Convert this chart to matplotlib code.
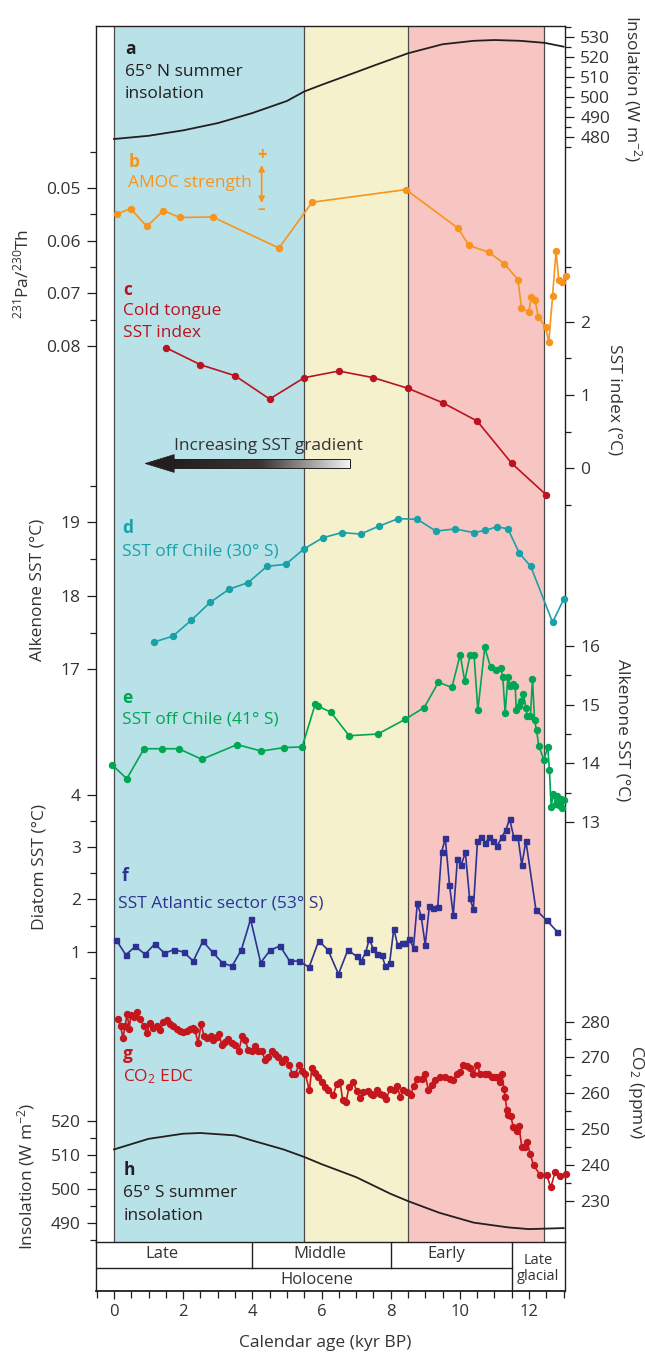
import numpy as np
import matplotlib
matplotlib.use('Agg')
import matplotlib.pyplot as plt
from matplotlib.colors import LinearSegmentedColormap
from matplotlib.patches import Polygon, Rectangle

plt.rcParams['font.family'] = ['Open Sans', 'DejaVu Sans']
plt.rcParams['mathtext.fontset'] = 'custom'
plt.rcParams['mathtext.rm'] = 'Open Sans'
plt.rcParams['mathtext.it'] = 'Open Sans:italic'
plt.rcParams['mathtext.bf'] = 'Open Sans:bold'
plt.rcParams['font.size'] = 12.5

# ---- data, ages in kyr BP ----
# a: 65N summer insolation (W m-2)
a_age = [0, 1, 2, 3, 4, 5, 5.5, 6, 7, 7.5, 8.5, 9.5, 10.4, 11, 11.75, 12.45, 13]
a_ins = [479.1, 480.7, 483.4, 487.0, 492.0, 498.0, 502.7, 506.0, 512.3, 515.5,
         521.7, 526.2, 527.9, 528.3, 527.9, 526.9, 525.0]

# b: AMOC strength, 231Pa/230Th
b_age = [0.1, 0.48, 0.95, 1.43, 1.9, 2.85, 4.77, 5.73, 8.44, 9.94, 10.26, 10.84, 11.29,
         11.68, 11.78, 11.99, 12.07, 12.17, 12.27, 12.48, 12.57, 12.68, 12.78, 12.86,
         12.96, 13.07]
b_pa = [0.0549, 0.0539, 0.0573, 0.0543, 0.0556, 0.0555, 0.0614, 0.0527, 0.0503, 0.0576,
        0.0609, 0.0622, 0.0644, 0.0674, 0.0727, 0.0736, 0.0707, 0.0712, 0.0745, 0.0764,
        0.0793, 0.0706, 0.0620, 0.0674, 0.0678, 0.0667]

# c: cold tongue SST index (degC)
c_age = [1.5, 2.5, 3.5, 4.5, 5.5, 6.5, 7.5, 8.5, 9.5, 10.5, 11.5, 12.5]
c_sst = [1.645, 1.413, 1.263, 0.945, 1.236, 1.327, 1.236, 1.091, 0.895, 0.645, 0.068, -0.364]

# d: alkenone SST off Chile 30S
d_age = [1.15, 1.70, 2.24, 2.78, 3.33, 3.88, 4.42, 4.97, 5.50, 6.04, 6.59, 7.13, 7.67,
         8.22, 8.77, 9.31, 9.86, 10.40, 10.74, 11.08, 11.39, 11.72, 12.05, 12.68, 13.01]
d_sst = [17.37, 17.45, 17.67, 17.91, 18.09, 18.18, 18.40, 18.43, 18.64, 18.79, 18.86,
         18.84, 18.95, 19.05, 19.04, 18.88, 18.91, 18.86, 18.89, 18.94, 18.91, 18.58,
         18.40, 17.64, 17.96]

# e: alkenone SST off Chile 41S
e_age = [-0.06, 0.37, 0.87, 1.39, 1.87, 2.54, 3.56, 4.26, 4.92, 5.44, 5.82, 5.91, 6.27,
         6.80, 7.63, 8.42, 8.97, 9.38, 9.77, 10.01, 10.14, 10.30, 10.41, 10.52, 10.72,
         10.89, 11.05, 11.18, 11.24, 11.31, 11.39, 11.45, 11.53, 11.60, 11.63, 11.72,
         11.78, 11.84, 11.91, 11.95, 12.04, 12.10, 12.16, 12.22, 12.28, 12.43, 12.54,
         12.59, 12.64, 12.70, 12.77, 12.82, 12.88, 12.93, 12.96, 13.02]
e_sst = [13.98, 13.74, 14.25, 14.25, 14.25, 14.07, 14.32, 14.21, 14.27, 14.28, 15.01,
         14.97, 14.87, 14.47, 14.50, 14.75, 14.95, 15.38, 15.29, 15.85, 15.40, 15.85,
         15.85, 14.90, 15.97, 15.63, 15.59, 15.62, 15.47, 14.86, 15.47, 15.32, 15.35,
         15.32, 14.90, 14.98, 15.06, 15.18, 14.94, 14.80, 14.80, 15.43, 14.73, 14.56,
         14.30, 14.06, 14.28, 13.89, 13.26, 13.48, 13.31, 13.44, 13.29, 13.40, 13.25, 13.38]

# f: diatom SST Atlantic sector 53S
f_age = [0.06, 0.34, 0.62, 0.90, 1.18, 1.46, 1.74, 2.02, 2.29, 2.57, 2.85, 3.13, 3.41,
         3.68, 3.95, 4.24, 4.52, 4.80, 5.08, 5.36, 5.64, 5.92, 6.19, 6.49, 6.76, 7.02,
         7.15, 7.28, 7.38, 7.50, 7.61, 7.74, 7.85, 7.97, 8.09, 8.20, 8.32, 8.42, 8.54,
         8.66, 8.77, 8.88, 9.00, 9.12, 9.23, 9.36, 9.47, 9.58, 9.70, 9.81, 9.93, 10.04,
         10.16, 10.28, 10.39, 10.51, 10.62, 10.74, 10.85, 10.97, 11.08, 11.21, 11.33,
         11.44, 11.56, 11.68, 11.79, 11.91, 12.20, 12.51, 12.82]
f_sst = [1.23, 0.94, 1.10, 0.95, 1.15, 0.97, 1.04, 0.99, 0.82, 1.20, 0.99, 0.79, 0.72,
         1.03, 1.62, 0.79, 1.03, 1.11, 0.82, 0.82, 0.70, 1.21, 1.03, 0.57, 1.03, 0.91,
         0.82, 0.99, 1.24, 1.05, 0.95, 0.94, 0.72, 0.79, 1.44, 1.13, 1.16, 1.17, 1.24,
         1.08, 1.93, 1.68, 1.13, 1.88, 1.84, 1.85, 2.90, 3.17, 2.28, 1.70, 2.78, 2.66,
         2.90, 2.03, 1.82, 3.12, 3.19, 3.08, 3.19, 3.12, 3.02, 3.19, 3.33, 3.54, 3.19,
         3.20, 2.66, 3.12, 1.80, 1.60, 1.38]

# g: CO2 EDC (ppmv)
g_age = [0.12, 0.19, 0.26, 0.32, 0.38, 0.44, 0.49, 0.58, 0.66, 0.75,
         0.87, 0.95, 1.04, 1.14, 1.23, 1.33, 1.43, 1.52, 1.62, 1.71,
         1.81, 1.91, 2.00, 2.10, 2.20, 2.29, 2.34, 2.43, 2.52, 2.60,
         2.70, 2.80, 2.87, 2.97, 3.04, 3.11, 3.21, 3.31, 3.40, 3.50,
         3.61, 3.70, 3.79, 3.88, 3.98, 4.08, 4.17, 4.27, 4.37, 4.46,
         4.56, 4.66, 4.75, 4.85, 4.95, 5.07, 5.15, 5.24, 5.35, 5.45,
         5.53, 5.65, 5.72, 5.82, 5.91, 6.01, 6.10, 6.20, 6.34, 6.44,
         6.54, 6.61, 6.71, 6.80, 6.92, 7.02, 7.11, 7.21, 7.33, 7.42,
         7.50, 7.60, 7.69, 7.79, 7.87, 7.98, 8.10, 8.19, 8.27, 8.37,
         8.48, 8.58, 8.66, 8.77, 8.90, 8.99, 9.09, 9.19, 9.28, 9.43,
         9.57, 9.72, 9.81, 9.91, 10.01, 10.10, 10.20, 10.29, 10.39, 10.51,
         10.58, 10.73, 10.82, 10.92, 11.02, 11.11, 11.16, 11.21, 11.28, 11.31,
         11.36, 11.40, 11.47, 11.55, 11.65, 11.71, 11.79, 11.89, 11.95, 12.03,
         12.13, 12.32, 12.51, 12.63, 12.75, 12.90, 13.07]
g_co2 = [280.8, 278.8, 275.3, 278.8, 282.2, 278.0, 281.8, 281.3, 282.7, 280.6,
         278.8, 276.8, 279.6, 278.3, 278.8, 277.6, 279.8, 280.3, 279.3, 278.8,
         278.0, 277.3, 277.1, 277.3, 277.8, 278.3, 277.6, 274.1, 279.3, 276.0,
         275.4, 276.0, 274.9, 275.7, 276.6, 273.5, 274.4, 275.1, 273.9, 273.4,
         271.7, 275.9, 274.9, 272.2, 271.9, 273.2, 271.9, 271.7, 269.4, 270.0,
         271.7, 270.9, 270.0, 268.8, 269.5, 268.0, 265.5, 265.5, 267.8, 266.2,
         265.5, 260.8, 267.0, 265.7, 264.5, 263.1, 261.9, 260.9, 259.6, 262.6,
         263.1, 258.2, 257.7, 261.9, 263.1, 260.6, 258.6, 260.3, 260.6, 259.9,
         259.4, 260.9, 259.9, 259.6, 258.3, 261.3, 260.9, 262.1, 259.1, 260.9,
         260.3, 259.4, 262.1, 264.1, 264.1, 265.5, 260.9, 262.3, 263.6, 264.5,
         264.5, 264.1, 263.6, 265.5, 266.0, 267.8, 267.5, 267.0, 265.5, 268.0,
         265.3, 265.3, 265.5, 264.5, 264.5, 264.5, 263.1, 265.5, 261.1, 258.9,
         255.4, 254.0, 253.7, 250.5, 249.5, 250.8, 245.1, 245.1, 246.4, 243.2,
         240.0, 237.3, 237.3, 233.8, 238.0, 237.0, 237.5]

# h: 65S summer insolation (W m-2)
h_age = [0, 1, 2, 2.5, 3.5, 4, 4.9, 5.5, 6, 7, 8, 8.5, 9.4, 10.4, 11.4, 12, 13]
h_ins = [511.6, 514.7, 516.2, 516.4, 515.7, 514.2, 511.6, 509.4, 507.3, 503.5, 498.6,
         496.5, 493.1, 490.2, 488.8, 488.3, 488.6]

# periods (kyr BP)
period_edges = [0, 5.5, 8.5, 12.43]
period_colors = ['#b9e2e8', '#f6f1cd', '#f8c6c2']
stage_names = ['Late', 'Middle', 'Early']
stage_bounds = [4, 8, 11.5]

# ---- layout (pixel rows of the 645x1353 canvas) ----
W, H = 645, 1353
LEFT, RIGHT = 96, 565
TOP, BOT, BOXBOT = 26, 1242, 1291.4
XLIM = (-0.52, 13.04)
dark = '#333333'
black = '#231f20'

fig = plt.figure(figsize=(W / 100, H / 100), dpi=100)
ax = fig.add_axes([LEFT / W, 1 - BOT / H, (RIGHT - LEFT) / W, (BOT - TOP) / H])
ax.set_xlim(*XLIM)
ax.set_ylim(BOT, TOP)
ax.set_xticks([])
ax.set_yticks([])
ax.spines['bottom'].set_visible(False)
for s in ['left', 'right', 'top']:
    ax.spines[s].set_linewidth(1.0)
    ax.spines[s].set_color(black)

for i in range(3):
    ax.axvspan(period_edges[i], period_edges[i + 1], color=period_colors[i], lw=0, zorder=0)
for x in period_edges:
    ax.axvline(x, color='#4a4a4a', lw=0.9, zorder=1)


def panel(side, v1, p1, v2, p2, major, minor, fmt):
    t = ax.twinx()
    k = (v2 - v1) / (p2 - p1)
    t.set_ylim(v1 + (BOT - p1) * k, v1 + (TOP - p1) * k)
    for s in t.spines.values():
        s.set_visible(False)
    t.yaxis.set_ticks_position(side)
    t.set_yticks(major)
    t.set_yticks(minor, minor=True)
    t.set_yticklabels([fmt.format(m) for m in major])
    t.tick_params(axis='y', which='major', length=6.5, width=0.9, color=black,
                  labelcolor=dark, labelsize=12.5, pad=4.5, direction='out')
    t.tick_params(axis='y', which='minor', length=4, width=0.9, color=black, direction='out')
    return t


orange = '#f7941d'
crimson = '#b9131f'
teal = '#18a2a8'
green = '#00a651'
navy = '#2e3192'
red = '#c4161c'

ta = panel('right', 530, 36.6, 480, 137.2, list(range(480, 531, 10)),
           list(range(475, 536, 5)), '{:g}')
ta.plot(a_age, a_ins, color=black, lw=1.3, clip_on=False)

tb = panel('left', 0.05, 188, 0.08, 346, [0.05, 0.06, 0.07, 0.08],
           [0.0431, 0.055, 0.065, 0.075], '{:.2f}')
tb.plot(b_age, b_pa, '-o', color=orange, ms=4.3, lw=1.2, clip_on=False)

tc = panel('right', 2, 321.7, 0, 468.3, [0, 1, 2], [-0.5, 0.5, 1.5, 2.75], '{:g}')
tc.plot(c_age, c_sst, '-o', color=crimson, ms=4.3, lw=1.2, clip_on=False)

td = panel('left', 19, 522.3, 17, 669.3, [17, 18, 19], [17.5, 18.5, 19.5], '{:g}')
td.plot(d_age, d_sst, '-o', color=teal, ms=4.3, lw=1.2, clip_on=False)

te = panel('right', 16, 645.7, 13, 822.3, [13, 14, 15, 16], [13.5, 14.5, 15.5], '{:g}')
te.plot(e_age, e_sst, '-o', color=green, ms=4.3, lw=1.2, clip_on=False)

tf = panel('left', 4, 795, 1, 951.7, [1, 2, 3, 4], [0.5, 1.5, 2.5, 3.5], '{:g}')
tf.plot(f_age, f_sst, '-s', color=navy, ms=3.6, lw=1.2, clip_on=False)

tg = panel('right', 280, 1021.5, 230, 1201.1, list(range(230, 281, 10)),
           list(range(235, 280, 10)), '{:g}')
tg.plot(g_age, g_co2, '-o', color=red, ms=4.3, lw=1.2, clip_on=False)

th = panel('left', 520, 1120.7, 490, 1223.3, [490, 500, 510, 520],
           [485, 495, 505, 515], '{:g}')
th.plot(h_age, h_ins, color=black, lw=1.3, clip_on=False)

# ---- panel captions ----
def caption(x, ys, letter, lines, color):
    ax.text(x, ys[0], letter, color=color, weight='bold', va='center', ha='left')
    for y, s in zip(ys[1:], lines):
        ax.text(x, y, s, color=color, va='center', ha='left')


caption(0.32, [49, 71.7, 94.3], 'a', ['65° N summer', 'insolation'], black)
caption(0.41, [161.7, 183.3], 'b', ['AMOC strength'], orange)
caption(0.26, [290, 311, 333.3], 'c', ['Cold tongue', 'SST index'], crimson)
caption(0.23, [527.7, 551], 'd', ['SST off Chile (30° S)'], teal)
caption(0.23, [698.3, 720], 'e', ['SST off Chile (41° S)'], green)
ax.text(0.22, 875.8, 'f', color=navy, weight='bold', va='center')
ax.text(0.12, 904, 'SST Atlantic sector (53° S)', color=navy, va='center')
caption(0.25, [1054, 1076.2], 'g', ['CO$_2$ EDC'], red)
caption(0.27, [1170.4, 1193.3, 1216.2], 'h', ['65° S summer', 'insolation'], black)

# AMOC direction arrow
ax.annotate('', xy=(4.27, 165), xytext=(4.27, 203),
            arrowprops=dict(arrowstyle='<|-|>', color=orange, lw=1.2,
                            mutation_scale=9, shrinkA=0, shrinkB=0))
ax.text(4.27, 155.5, '+', color=orange, ha='center', va='center', weight='bold', fontsize=12)
ax.text(4.27, 209.5, '–', color=orange, ha='center', va='center', weight='bold', fontsize=11)

# increasing SST gradient arrow
grad = LinearSegmentedColormap.from_list('g', [black, '#3a3434', '#f4f4f4'])
ax.imshow(np.linspace(0, 1, 256).reshape(1, -1), cmap=grad, aspect='auto',
          extent=[1.72, 6.82, 467.8, 459.2], zorder=3, interpolation='bilinear')
ax.add_patch(Rectangle((1.72, 459.2), 5.1, 8.6, fill=False, ec=black, lw=0.7, zorder=4))
ax.add_patch(Polygon([(0.9, 463.5), (1.74, 454.6), (1.74, 472.4)], closed=True,
                     fc=black, ec=black, lw=0.5, zorder=4))
ax.text(4.48, 446.5, 'Increasing SST gradient', color=dark, ha='center', va='center')
ax.set_xlim(*XLIM)
ax.set_ylim(BOT, TOP)

# ---- period box with x axis ----
bx = fig.add_axes([LEFT / W, 1 - BOXBOT / H, (RIGHT - LEFT) / W, (BOXBOT - BOT) / H])
bx.set_xlim(*XLIM)
bx.set_ylim(BOXBOT, BOT)
for s in bx.spines.values():
    s.set_color(black)
    s.set_linewidth(1.0)
bx.spines['bottom'].set_linewidth(1.3)
bx.plot([XLIM[0], 11.5], [1268.4, 1268.4], color=black, lw=1.0)
for x in stage_bounds[:2]:
    bx.plot([x, x], [BOT, 1268.4], color=black, lw=1.0)
bx.axvline(stage_bounds[2], color=black, lw=1.0)
for x, s in zip([1.38, 5.95, 9.6], stage_names):
    bx.text(x, 1254.5, s, ha='center', va='center', color=dark, fontsize=12)
bx.text(5.85, 1280, 'Holocene', ha='center', va='center', color=dark, fontsize=12)
bx.text(12.27, 1268.5, 'Late\nglacial', ha='center', va='center', color=dark,
        fontsize=10.5, linespacing=1.05)
bx.set_yticks([])
bx.set_xticks(range(0, 13, 2))
bx.set_xticks(np.arange(-0.5, 13.01, 0.5), minor=True)
bx.tick_params(axis='x', which='major', length=6, width=0.9, color=black,
               labelcolor=dark, labelsize=12, pad=3)
bx.tick_params(axis='x', which='minor', length=5, width=0.9, color=black)

# ---- axis titles ----
def ftext(px, py, s, rot):
    fig.text(px / W, 1 - py / H, s, rotation=rot, ha='center', va='center',
             color=dark, fontsize=12.5, rotation_mode='anchor')


ftext(22, 274, '$^{231}$Pa/$^{230}$Th', 90)
ftext(37.5, 590, 'Alkenone SST (°C)', 90)
ftext(40, 867, 'Diatom SST (°C)', 90)
ftext(26, 1176, 'Insolation (W m$^{-2}$)', 90)
ftext(633, 89, 'Insolation (W m$^{-2}$)', -90)
ftext(615, 400, 'SST index (°C)', -90)
ftext(622, 730, 'Alkenone SST (°C)', -90)
ftext(636, 1092, 'CO$_2$ (ppmv)', -90)
fig.text(325 / W, 1 - 1343 / H, 'Calendar age (kyr BP)', ha='center', va='center',
         color=dark, fontsize=12.5)

fig.savefig('out.png', dpi=100)
